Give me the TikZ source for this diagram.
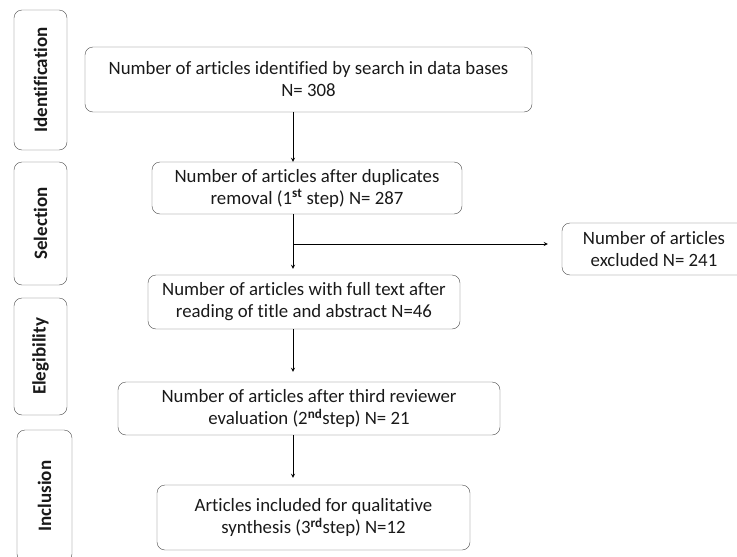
\documentclass[tikz,border=0pt]{standalone}
\usepackage{fontspec}
\setmainfont{Carlito}[Ligatures=NoCommon]
\usetikzlibrary{arrows}
\tikzstyle{phase} = [
    rectangle,
    rounded corners=8pt,
    rotate=90,
    minimum height=53pt,
    inner sep=0pt,
    font=\fontsize{19pt}{22pt}\selectfont\bfseries,
    draw=black!70
]
\tikzstyle{process} = [
    rectangle,
    rounded corners=8pt,
    align=center,
    inner sep=0pt,
    draw=black!70
]
\tikzstyle{arrow} = [thick,->,>=stealth]

\begin{document}
\begin{tikzpicture}[x=1pt, y=-1pt, text=black!90,
    font=\fontsize{18.8pt}{22pt}\selectfont]

\useasboundingbox (0,0) rectangle (737,557);
\clip (0,0) rectangle (737,557);

% phases on the left
\node (ident) [phase, minimum width=140pt] at (40.5,80) {Identification};
\node (select) [phase, minimum width=123pt] at (40.5,223.5) {Selection};
\node (elig) [phase, minimum width=117pt] at (40.5,356.5) {Elegibility};
\node (incl) [phase, minimum width=132pt, minimum height=55pt] at (44.5,496) {Inclusion};

% flow
\node (search) [process, minimum width=447pt, minimum height=65pt] at (308.5,79.5)
{Number of articles identified by search in data bases\\N= 308};

\node (dupl) [process, minimum width=310pt, minimum height=52pt] at (307,188)
{Number of articles after duplicates\\removal (1\textsuperscript{\textbf{st}} step) N= 287};

\node (excl) [process, minimum width=184pt, minimum height=52pt] at (654,249)
{Number of articles\\excluded N= 241};

\node (full) [process, minimum width=312pt, minimum height=54pt] at (304,302)
{Number of articles with full text after\\reading of title and abstract N=46};

\node (third) [process, minimum width=382pt, minimum height=53pt] at (309,408.5)
{Number of articles after third reviewer\\evaluation (2\textsuperscript{\textbf{nd}}step) N= 21};

\node (synth) [process, minimum width=313pt, minimum height=65pt] at (313.5,517.5)
{Articles included for qualitative\\synthesis (3\textsuperscript{\textbf{rd}}step) N=12};

\coordinate (trunk) at (293,0);
\coordinate (branch) at (293,244);

\draw [arrow] (search.south -| trunk) -- (dupl.north -| trunk);
\draw [arrow, shorten >=6pt] (dupl.south -| trunk) -- (full.north -| trunk);
\draw [arrow, shorten >=14pt] (branch) -- (branch -| excl.west);
\draw [arrow, shorten >=10pt] (full.south -| trunk) -- (third.north -| trunk);
\draw [arrow, shorten >=7pt] (third.south -| trunk) -- (synth.north -| trunk);

\end{tikzpicture}
\end{document}
